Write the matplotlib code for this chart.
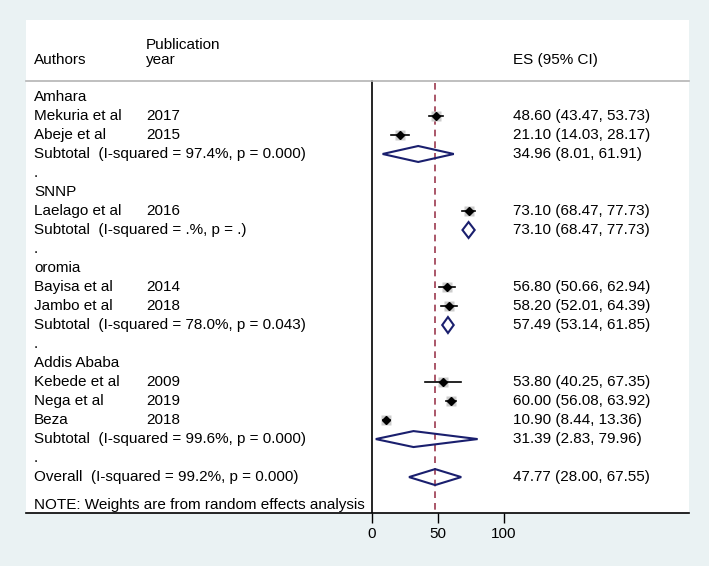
import matplotlib
matplotlib.use('Agg')
import matplotlib.pyplot as plt
from matplotlib.patches import Polygon
import matplotlib.transforms as mtransforms

# Forest plot - prevalence by region (random effects)

regions = ['Amhara', 'SNNP', 'oromia', 'Addis Ababa']
authors = ['Mekuria et al', 'Abeje et al', 'Laelago et al', 'Bayisa et al',
           'Jambo et al', 'Kebede et al', 'Nega et al', 'Beza']
years = ['2017', '2015', '2016', '2014', '2018', '2009', '2019', '2018']
study_region = ['Amhara', 'Amhara', 'SNNP', 'oromia', 'oromia',
                'Addis Ababa', 'Addis Ababa', 'Addis Ababa']
es = [48.60, 21.10, 73.10, 56.80, 58.20, 53.80, 60.00, 10.90]
lo = [43.47, 14.03, 68.47, 50.66, 52.01, 40.25, 56.08, 8.44]
hi = [53.73, 28.17, 77.73, 62.94, 64.39, 67.35, 63.92, 13.36]

sub_es = [34.96, 73.10, 57.49, 31.39]
sub_lo = [8.01, 68.47, 53.14, 2.83]
sub_hi = [61.91, 77.73, 61.85, 79.96]
sub_i2 = ['97.4%', '.%', '78.0%', '99.6%']
sub_p = ['0.000', '.', '0.043', '0.000']

overall_es, overall_lo, overall_hi = 47.77, 28.00, 67.55
overall_i2, overall_p = '99.2%', '0.000'

xticks = [0, 50, 100]

plt.rcParams['font.family'] = ['Liberation Sans', 'DejaVu Sans']
plt.rcParams['font.size'] = 11

BG = '#eaf2f3'
NAVY = '#1a1f6e'
DASH = '#9c3a4f'

fig = plt.figure(figsize=(7.09, 5.66), dpi=100, facecolor=BG)
ax = fig.add_axes([26 / 709, 1 - 513 / 566, 663 / 709, 493 / 566])
ax.set_facecolor('white')

y_top, y_bot = -4.05, 21.89
ax.set_xlim(-262, 240)
ax.set_ylim(y_bot, y_top)

tr = mtransforms.blended_transform_factory(ax.transAxes, ax.transData)
x_auth, x_year, x_es = 0.012, 0.181, 0.7345

def ci_text(e, l, h):
    return f'{e:.2f} ({l:.2f}, {h:.2f})'

def diamond(e, l, h, y, hh=0.42):
    ax.add_patch(Polygon([(l, y), (e, y - hh), (h, y), (e, y + hh)],
                         closed=True, fill=False, edgecolor=NAVY, lw=1.5, zorder=4))

# header
ax.text(x_year, -2.72, 'Publication', transform=tr, va='center')
ax.text(x_auth, -1.95, 'Authors', transform=tr, va='center')
ax.text(x_year, -1.95, 'year', transform=tr, va='center')
ax.text(x_es, -1.95, 'ES (95% CI)', transform=tr, va='center')
hdr = -0.84
ax.plot([0, 1], [hdr, hdr], transform=tr, color='#b4b4b4', lw=1.2, clip_on=False)

row = 0
for r, region in enumerate(regions):
    ax.text(x_auth, row, region, transform=tr, va='center')
    row += 1
    for i in range(len(authors)):
        if study_region[i] != region:
            continue
        ax.text(x_auth, row, authors[i], transform=tr, va='center')
        ax.text(x_year, row, years[i], transform=tr, va='center')
        ax.text(x_es, row, ci_text(es[i], lo[i], hi[i]), transform=tr, va='center')
        ax.plot(es[i], row, marker='s', ms=6.5, color='#cccccc', mec='none', zorder=2)
        ax.plot([lo[i], hi[i]], [row, row], color='black', lw=1.2, zorder=3)
        ax.plot(es[i], row, marker='D', ms=4, color='black', zorder=3)
        row += 1
    ax.text(x_auth, row, f'Subtotal  (I-squared = {sub_i2[r]}, p = {sub_p[r]})',
            transform=tr, va='center')
    ax.text(x_es, row, ci_text(sub_es[r], sub_lo[r], sub_hi[r]), transform=tr, va='center')
    diamond(sub_es[r], sub_lo[r], sub_hi[r], row)
    row += 1
    ax.text(x_auth, row, '.', transform=tr, va='center')
    row += 1

ax.text(x_auth, row, f'Overall  (I-squared = {overall_i2}, p = {overall_p})',
        transform=tr, va='center')
ax.text(x_es, row, ci_text(overall_es, overall_lo, overall_hi), transform=tr, va='center')
diamond(overall_es, overall_lo, overall_hi, row)
ax.text(x_auth, row + 1.45, 'NOTE: Weights are from random effects analysis',
        transform=tr, va='center')

# null line and overall estimate line
ax.plot([0, 0], [hdr, y_bot], color='black', lw=1.2, zorder=1)
ax.plot([overall_es, overall_es], [hdr + 0.1, y_bot], color=DASH, lw=1.2,
        ls=(0, (4, 3)), zorder=1)

for s in ['top', 'left', 'right']:
    ax.spines[s].set_visible(False)
ax.spines['bottom'].set_color('black')
ax.spines['bottom'].set_linewidth(1.2)
ax.set_yticks([])
ax.set_xticks(xticks)
ax.set_xticklabels([str(t) for t in xticks])
ax.tick_params(axis='x', length=7, width=1, pad=3, labelsize=11)

fig.savefig('out.png', dpi=100, facecolor=BG)
